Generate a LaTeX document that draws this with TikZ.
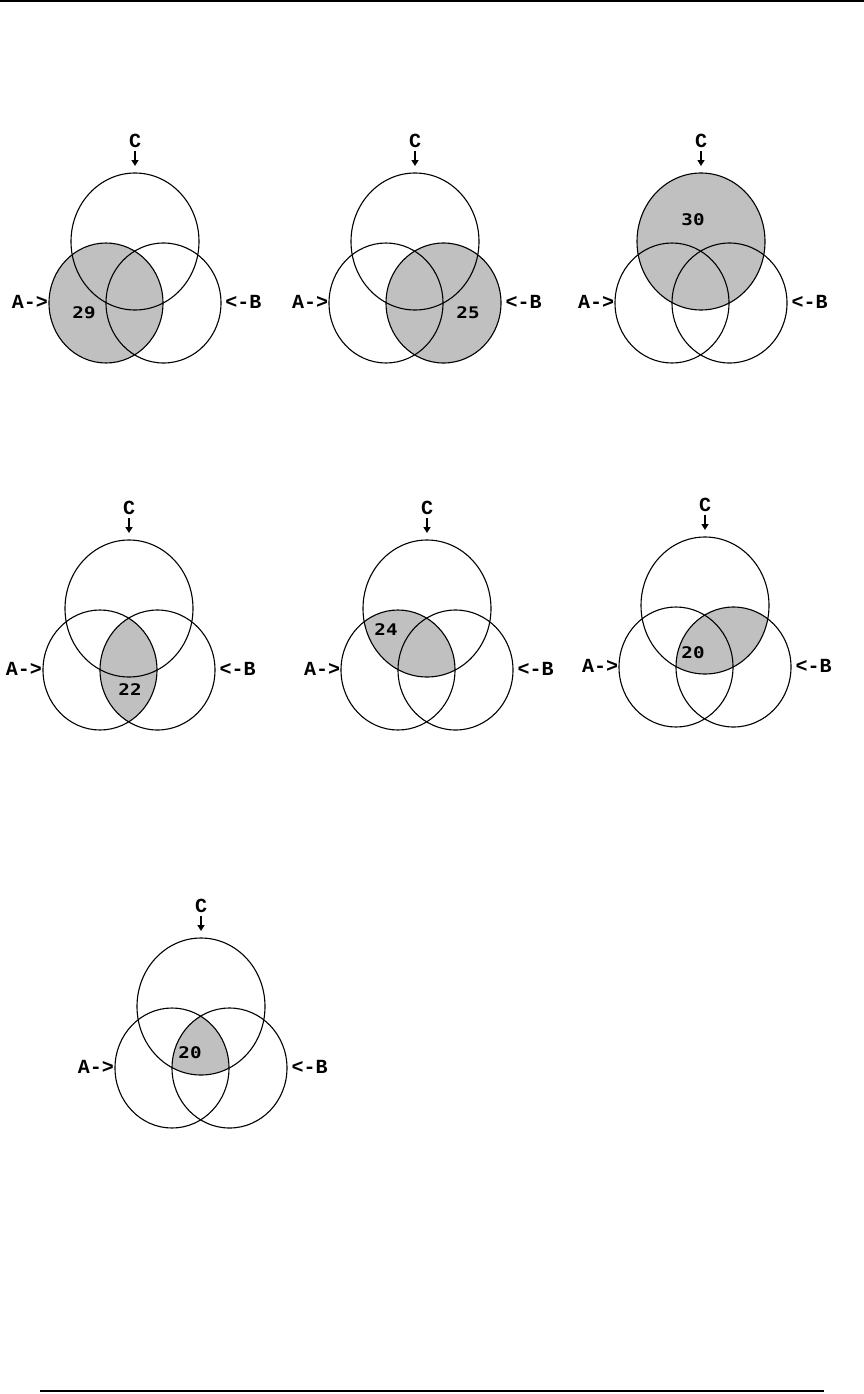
\documentclass[tikz,border=0pt]{standalone}
\usepackage{graphicx}
\usepackage{fontspec}
\usetikzlibrary{arrows.meta}
\newfontfamily\lblfont{Liberation Mono}
\newfontfamily\numfont{DejaVu Sans Mono}
\definecolor{shadegray}{RGB}{192,192,192}
\tikzset{
  venn/.style={draw=black, line width=1.1pt},
  shadefill/.style={fill=shadegray},
  lbl/.style={font=\fontsize{20}{20}\selectfont\lblfont\bfseries, inner sep=0pt},
  num/.style={font=\fontsize{16}{16}\selectfont\numfont\bfseries, inner sep=0pt},
  carrow/.style={line width=1.8pt, -{Triangle[width=7pt,length=6pt]}},
  rulebar/.style={line width=2.4pt}
}
\def\pA{(106,303) ellipse [x radius=57, y radius=60]}
\def\pB{(163.5,303) ellipse [x radius=57.5, y radius=60]}
\def\pC{(135,241.5) ellipse [x radius=64, y radius=68.5]}
% #1 suffix, #2 dx, #3 dy, #4 shading code, #5 number position, #6 number
\newcommand\venndiag[6]{%
  \begin{scope}[shift={(#2,#3)}]
    #4
    \draw[venn] \pA;
    \draw[venn] \pB;
    \draw[venn] \pC;
    \node[lbl] (C#1) at (135,141) {C};
    \coordinate (Cs#1) at (135,151);
    \coordinate (Ct#1) at (135,166);
    \draw[carrow] (Cs#1) -- (Ct#1);
    \node[lbl] (A#1) at (30,302) {\scalebox{1.0}[1]{A->}};
    \node[lbl] (B#1) at (243.5,302) {\scalebox{1.0}[1]{<-B}};
    \node[num] (N#1) at #5 {\scalebox{1.2}[1]{#6}};
  \end{scope}}
\begin{document}
\begin{tikzpicture}[x=1pt,y=-1pt]
  \useasboundingbox (0,0) rectangle (864,1394);
  \fill[white] (0,0) rectangle (864,1394);
  \coordinate (T1) at (0,1.2);
  \coordinate (T2) at (864,1.2);
  \draw[rulebar] (T1) -- (T2);
  \coordinate (R1) at (40,1391);
  \coordinate (R2) at (824,1391);
  \draw[line width=2pt] (R1) -- (R2);
  \venndiag{1}{0}{0}{\fill[shadefill] \pA;}{(84,313)}{29}
  \venndiag{2}{280}{0}{\fill[shadefill] \pB;}{(188,313)}{25}
  \venndiag{3}{566}{0}{\fill[shadefill] \pC;}{(127,220)}{30}
  \venndiag{4}{-6}{367}{\begin{scope}\clip \pA; \fill[shadefill] \pB;\end{scope}}{(136,323)}{22}
  \venndiag{5}{292}{367}{\begin{scope}\clip \pA; \fill[shadefill] \pC;\end{scope}}{(94,263)}{24}
  \venndiag{6}{570}{364}{\begin{scope}\clip \pB; \fill[shadefill] \pC;\end{scope}}{(123,289)}{20}
  \venndiag{7}{66}{765}{\begin{scope}\clip \pA; \clip \pB; \fill[shadefill] \pC;\end{scope}}{(124,288)}{20}
\end{tikzpicture}
\end{document}
